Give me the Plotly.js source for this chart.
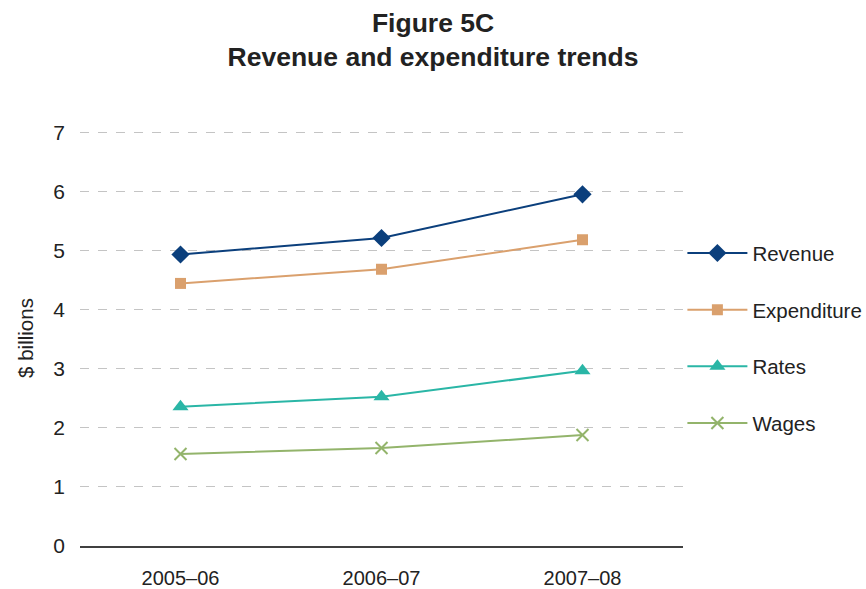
<!DOCTYPE html>
<html>
<head>
<meta charset="utf-8">
<script src="https://cdn.plot.ly/plotly-3.0.1.min.js"></script>
<style>html,body{margin:0;padding:0;background:#fff;}#chart{width:866px;height:589px;}</style>
</head>
<body>
<div id="chart"></div>
<script>
const categories = ["2005–06", "2006–07", "2007–08"];
const revenue = [4.94, 5.22, 5.96];
const expenditure = [4.45, 4.69, 5.19];
const rates = [2.36, 2.53, 2.97];
const wages = [1.56, 1.66, 1.88];
const yTicks = [0, 1, 2, 3, 4, 5, 6, 7];

const FONT = "Liberation Sans, Arial, sans-serif";

function series(name, y, color, symbol, size, group) {
  const m = {symbol: symbol, size: size, color: color};
  if (symbol === "x-thin-open") m.line = {color: color, width: 2};
  return {
    type: "scatter", mode: "lines+markers", name: name,
    x: categories, y: y, legendgroup: group,
    line: {color: color, width: 2},
    marker: m
  };
}

const data = [
  series("Revenue", revenue, "#0b3f7c", "diamond", 14, "a"),
  series("Expenditure", expenditure, "#daa06d", "square", 11, "b"),
  series("Rates", rates, "#2ab6a6", "triangle-up", 14, "c"),
  series("Wages", wages, "#93b46b", "x-thin-open", 12, "d")
];

const layout = {
  width: 866, height: 589,
  margin: {l: 80, r: 183, t: 130, b: 43, autoexpand: false},
  paper_bgcolor: "#fff", plot_bgcolor: "#fff",
  font: {family: FONT, size: 20, color: "#222"},
  title: {
    text: "<b>Figure 5C</b><br><b>Revenue and expenditure trends</b>",
    font: {family: FONT, size: 26.5, color: "#222"},
    x: 0.5, xanchor: "center", y: 0.946, yanchor: "top"
  },
  xaxis: {
    type: "category", range: [-0.5, 2.5],
    showgrid: false, zeroline: false,
    showline: true, linecolor: "#404040", linewidth: 1.5,
    ticks: "", ticklabelstandoff: 13,
    tickfont: {family: FONT, size: 20, color: "#222"}
  },
  yaxis: {
    range: [0, 7.05], tickvals: yTicks, ticktext: yTicks.map(String),
    showgrid: true, gridcolor: "#c4c4c4", griddash: "dash", gridwidth: 1,
    zeroline: false, showline: false, ticks: "",
    ticklabelstandoff: 14,
    tickfont: {family: FONT, size: 21, color: "#222"},
    title: {text: "$ billions", font: {family: FONT, size: 20.5, color: "#222"}, standoff: 14}
  },
  legend: {
    x: 0.999, xanchor: "left", y: 0.752, yanchor: "top",
    traceorder: "grouped", tracegroupgap: 27,
    font: {family: FONT, size: 20.5, color: "#222"},
    bgcolor: "rgba(0,0,0,0)", itemwidth: 60
  },
  showlegend: true
};

Plotly.newPlot("chart", data, layout, {displayModeBar: false, staticPlot: true});
</script>
</body>
</html>
